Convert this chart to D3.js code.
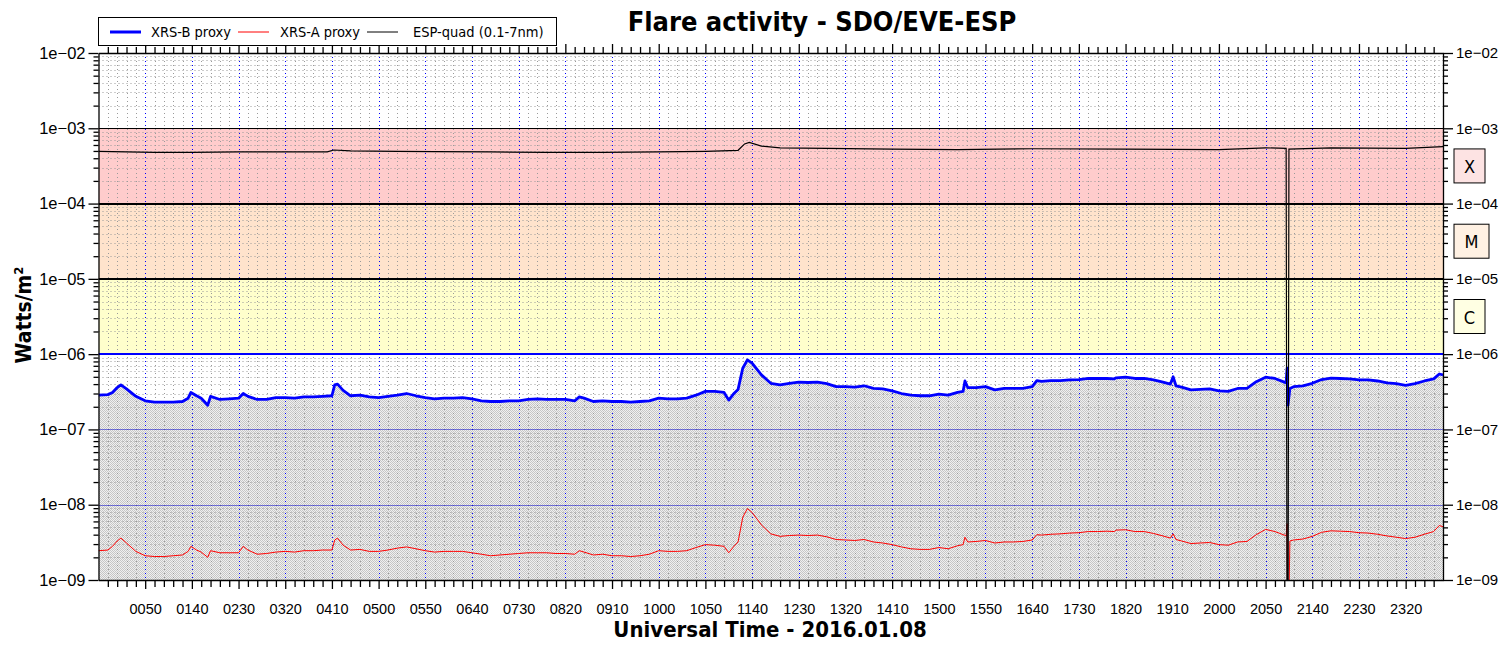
<!DOCTYPE html>
<html>
<head>
<meta charset="utf-8">
<script src="https://cdn.jsdelivr.net/npm/d3@7"></script>
<style>
  html, body { margin: 0; padding: 0; background: #fff; }
  svg { display: block; font-family: "DejaVu Sans Condensed", "DejaVu Sans", sans-serif; }
</style>
</head>
<body>
<svg id="chart" width="1511" height="663"></svg>
<script>
// minutes since 00:00 UT
const xrsTime = [0, 10, 15, 20, 24, 30, 40, 50, 60, 70, 80, 90, 96, 99, 105, 110, 117, 120, 130, 140,
  150, 155, 160, 170, 180, 190, 200, 210, 220, 230, 240, 250, 253, 256, 262, 270, 280, 290, 300, 310,
  320, 330, 340, 350, 360, 370, 380, 390, 400, 410, 420, 430, 440, 450, 460, 470, 480, 490, 500, 510,
  515, 520, 530, 540, 550, 560, 570, 580, 590, 600, 610, 620, 630, 640, 650, 660, 670, 675, 680, 685,
  690, 695, 700, 710, 720, 730, 740, 750, 760, 770, 780, 790, 800, 810, 820, 830, 840, 850, 860, 870,
  880, 890, 900, 910, 920, 926, 928, 931, 940, 950, 960, 970, 980, 990, 1000, 1005, 1010, 1020, 1030, 1040,
  1050, 1060, 1070, 1080, 1088, 1090, 1100, 1110, 1120, 1130, 1140, 1148, 1151, 1154, 1160, 1170, 1180, 1190, 1200, 1210,
  1220, 1230, 1240, 1250, 1260, 1270, 1272, 1273, 1274, 1276, 1280, 1290, 1300, 1310, 1320, 1330, 1340, 1350, 1360, 1370,
  1380, 1390, 1400, 1410, 1420, 1430, 1436, 1440];

const xrsB = [2.85e-7, 2.9e-7, 3.1e-7, 3.6e-7, 3.9e-7, 3.45e-7, 2.75e-7, 2.4e-7, 2.3e-7, 2.3e-7, 2.3e-7, 2.35e-7, 2.6e-7, 3.1e-7, 2.8e-7, 2.6e-7, 2.1e-7, 2.75e-7, 2.5e-7, 2.55e-7,
  2.6e-7, 3.0e-7, 2.75e-7, 2.5e-7, 2.5e-7, 2.65e-7, 2.65e-7, 2.6e-7, 2.7e-7, 2.7e-7, 2.75e-7, 2.8e-7, 3.9e-7, 4.0e-7, 3.3e-7, 2.8e-7, 2.85e-7, 2.7e-7, 2.65e-7, 2.75e-7,
  2.85e-7, 3.0e-7, 2.8e-7, 2.65e-7, 2.55e-7, 2.6e-7, 2.6e-7, 2.65e-7, 2.55e-7, 2.4e-7, 2.35e-7, 2.35e-7, 2.4e-7, 2.4e-7, 2.5e-7, 2.55e-7, 2.5e-7, 2.5e-7, 2.5e-7, 2.4e-7,
  2.7e-7, 2.6e-7, 2.35e-7, 2.4e-7, 2.35e-7, 2.35e-7, 2.3e-7, 2.35e-7, 2.4e-7, 2.6e-7, 2.55e-7, 2.55e-7, 2.6e-7, 2.85e-7, 3.2e-7, 3.2e-7, 3.1e-7, 2.45e-7, 2.95e-7, 3.4e-7,
  6.5e-7, 8.4e-7, 7.6e-7, 5.3e-7, 4.1e-7, 3.9e-7, 4.1e-7, 4.25e-7, 4.2e-7, 4.25e-7, 4.05e-7, 3.7e-7, 3.7e-7, 3.65e-7, 3.8e-7, 3.5e-7, 3.45e-7, 3.25e-7, 3.0e-7, 2.85e-7,
  2.8e-7, 2.8e-7, 2.95e-7, 2.85e-7, 3.1e-7, 3.2e-7, 4.4e-7, 3.6e-7, 3.6e-7, 3.7e-7, 3.35e-7, 3.5e-7, 3.5e-7, 3.5e-7, 3.7e-7, 4.45e-7, 4.35e-7, 4.45e-7, 4.45e-7, 4.55e-7,
  4.6e-7, 4.75e-7, 4.75e-7, 4.75e-7, 4.7e-7, 4.85e-7, 4.95e-7, 4.75e-7, 4.75e-7, 4.55e-7, 4.25e-7, 4.0e-7, 5.0e-7, 3.8e-7, 3.65e-7, 3.35e-7, 3.4e-7, 3.45e-7, 3.25e-7, 3.2e-7,
  3.5e-7, 3.5e-7, 4.3e-7, 4.95e-7, 4.75e-7, 4.25e-7, 4.15e-7, 6.5e-7, 2.1e-7, 3.5e-7, 3.7e-7, 3.8e-7, 4.1e-7, 4.6e-7, 4.8e-7, 4.75e-7, 4.7e-7, 4.55e-7, 4.55e-7, 4.4e-7,
  4.15e-7, 4.05e-7, 3.85e-7, 4.05e-7, 4.4e-7, 4.7e-7, 5.45e-7, 5.3e-7];

const xrsA = [2.45e-9, 2.5e-9, 2.8e-9, 3.3e-9, 3.6e-9, 3.1e-9, 2.4e-9, 2.1e-9, 2.05e-9, 2.05e-9, 2.1e-9, 2.15e-9, 2.4e-9, 2.8e-9, 2.5e-9, 2.35e-9, 2.0e-9, 2.45e-9, 2.3e-9, 2.3e-9,
  2.3e-9, 2.8e-9, 2.5e-9, 2.2e-9, 2.25e-9, 2.35e-9, 2.4e-9, 2.35e-9, 2.45e-9, 2.45e-9, 2.5e-9, 2.5e-9, 3.4e-9, 3.6e-9, 2.9e-9, 2.5e-9, 2.55e-9, 2.4e-9, 2.4e-9, 2.5e-9,
  2.65e-9, 2.75e-9, 2.6e-9, 2.45e-9, 2.35e-9, 2.4e-9, 2.4e-9, 2.4e-9, 2.3e-9, 2.2e-9, 2.1e-9, 2.15e-9, 2.2e-9, 2.25e-9, 2.3e-9, 2.3e-9, 2.3e-9, 2.25e-9, 2.25e-9, 2.2e-9,
  2.45e-9, 2.35e-9, 2.15e-9, 2.2e-9, 2.1e-9, 2.1e-9, 2.05e-9, 2.1e-9, 2.2e-9, 2.45e-9, 2.4e-9, 2.4e-9, 2.45e-9, 2.7e-9, 2.95e-9, 2.9e-9, 2.8e-9, 2.3e-9, 2.75e-9, 3.2e-9,
  6.8e-9, 8.9e-9, 7.9e-9, 5.4e-9, 4.1e-9, 3.8e-9, 3.9e-9, 3.95e-9, 3.9e-9, 3.95e-9, 3.75e-9, 3.45e-9, 3.4e-9, 3.35e-9, 3.45e-9, 3.2e-9, 3.1e-9, 2.95e-9, 2.75e-9, 2.6e-9,
  2.55e-9, 2.55e-9, 2.7e-9, 2.6e-9, 2.85e-9, 2.95e-9, 3.7e-9, 3.2e-9, 3.25e-9, 3.35e-9, 3.1e-9, 3.2e-9, 3.2e-9, 3.25e-9, 3.4e-9, 4.0e-9, 3.95e-9, 4.05e-9, 4.1e-9, 4.2e-9,
  4.25e-9, 4.4e-9, 4.4e-9, 4.45e-9, 4.4e-9, 4.6e-9, 4.65e-9, 4.4e-9, 4.4e-9, 4.15e-9, 3.85e-9, 3.6e-9, 4.1e-9, 3.45e-9, 3.3e-9, 3.05e-9, 3.1e-9, 3.15e-9, 2.95e-9, 2.9e-9,
  3.2e-9, 3.25e-9, 4.0e-9, 4.7e-9, 4.4e-9, 3.95e-9, 3.85e-9, 5.6e-9, 1e-10, 3.3e-9, 3.4e-9, 3.5e-9, 3.8e-9, 4.3e-9, 4.5e-9, 4.45e-9, 4.4e-9, 4.25e-9, 4.2e-9, 4.05e-9,
  3.85e-9, 3.7e-9, 3.55e-9, 3.7e-9, 4.05e-9, 4.4e-9, 5.3e-9, 5.1e-9];

const espTime = [0, 30, 60, 100, 150, 200, 245, 252, 270, 320, 360, 420, 480, 540, 600, 650, 685, 692, 697, 710,
  730, 780, 850, 920, 1000, 1100, 1200, 1250, 1272, 1273, 1274, 1275, 1320, 1400, 1440];
const esp = [4.95e-4, 4.85e-4, 4.8e-4, 4.8e-4, 4.85e-4, 4.85e-4, 4.85e-4, 5.15e-4, 5.0e-4, 4.95e-4, 4.9e-4, 4.85e-4, 4.8e-4, 4.8e-4, 4.85e-4, 4.95e-4, 5.1e-4, 6.2e-4, 6.5e-4, 5.8e-4,
  5.5e-4, 5.4e-4, 5.3e-4, 5.2e-4, 5.35e-4, 5.3e-4, 5.2e-4, 5.5e-4, 5.4e-4, 1e-10, 1e-10, 5.3e-4, 5.5e-4, 5.4e-4, 5.7e-4];

const flareClasses = ["X", "M", "C"];
const classLow = [1e-4, 1e-5, 1e-6];
const classColors = ["#ffcccc", "#ffe3cc", "#ffffcc"];
const classBoxColors = ["#fde3e3", "#fff1e3", "#ffffe3"];

const legendNames = ["XRS-B proxy", "XRS-A proxy", "ESP-quad (0.1-7nm)"];

const svg = d3.select("#chart");
const pL = 98.5, pR = 1443, pT = 53, pB = 580;

const x = d3.scaleLinear().domain([0, 1440]).range([pL, pR]);
const y = d3.scaleLog().domain([1e-9, 1e-2]).range([pB, pT]);

const defs = svg.append("defs");
defs.append("clipPath").attr("id", "plotClip")
  .append("rect").attr("x", pL).attr("y", pT).attr("width", pR - pL).attr("height", pB - pT);
const pat = defs.append("pattern").attr("id", "hatch").attr("patternUnits", "userSpaceOnUse")
  .attr("width", 2).attr("height", 2);
pat.append("rect").attr("width", 2).attr("height", 2).attr("fill", "#f0f0f0");
pat.append("rect").attr("width", 1).attr("height", 1).attr("fill", "#c6c6c6");
pat.append("rect").attr("x", 1).attr("y", 1).attr("width", 1).attr("height", 1).attr("fill", "#c6c6c6");

const plot = svg.append("g").attr("clip-path", "url(#plotClip)");

// flare class bands
plot.selectAll("rect.band").data(flareClasses).join("rect")
  .attr("class", "band")
  .attr("x", pL).attr("width", pR - pL)
  .attr("y", (d, i) => y(classLow[i] * 10))
  .attr("height", (d, i) => y(classLow[i]) - y(classLow[i] * 10))
  .attr("fill", (d, i) => classColors[i]);

// shaded area under XRS-B
const bData = xrsTime.map((t, i) => ({ t: t, v: xrsB[i] }));
const aData = xrsTime.map((t, i) => ({ t: t, v: xrsA[i] }));
const eData = espTime.map((t, i) => ({ t: t, v: esp[i] }));

plot.append("path").datum(bData)
  .attr("fill", "url(#hatch)")
  .attr("d", d3.area().x(d => x(d.t)).y0(pB).y1(d => y(d.v)));

// minor grid
const decades = d3.range(-9, -2).map(e => Math.pow(10, e));
const minorY = [];
decades.forEach(dv => { for (let k = 2; k <= 9; k++) minorY.push(dv * k); });
const minorX = d3.range(10, 1440, 10).filter(m => m % 50 !== 0);
const majorX = d3.range(50, 1440, 50);

plot.selectAll("line.gy").data(minorY).join("line")
  .attr("x1", pL).attr("x2", pR)
  .attr("y1", d => Math.round(y(d)) + 0.5).attr("y2", d => Math.round(y(d)) + 0.5)
  .attr("stroke", "#9a9a9a").attr("stroke-width", 1).attr("stroke-dasharray", "1,3");
plot.selectAll("line.gx").data(minorX).join("line")
  .attr("y1", pT).attr("y2", pB)
  .attr("x1", d => Math.round(x(d)) + 0.5).attr("x2", d => Math.round(x(d)) + 0.5)
  .attr("stroke", "#9a9a9a").attr("stroke-width", 1).attr("stroke-dasharray", "1,3");
plot.selectAll("line.mx").data(majorX).join("line")
  .attr("y1", pT).attr("y2", pB)
  .attr("x1", d => Math.round(x(d)) + 0.5).attr("x2", d => Math.round(x(d)) + 0.5)
  .attr("stroke", "#0000ff").attr("stroke-width", 1).attr("stroke-dasharray", "1,3");

// decade lines
const decadeStyle = [
  { v: 1e-8, c: "#0000cc", w: 1, dash: "1,1" },
  { v: 1e-7, c: "#0000cc", w: 1, dash: "1,1" },
  { v: 1e-6, c: "#0000ff", w: 2, dash: null },
  { v: 1e-5, c: "#000000", w: 2, dash: null },
  { v: 1e-4, c: "#000000", w: 2, dash: null },
  { v: 1e-3, c: "#000000", w: 1, dash: null }
];
plot.selectAll("line.dec").data(decadeStyle).join("line")
  .attr("x1", pL).attr("x2", pR)
  .attr("y1", d => Math.round(y(d.v)) + (d.w === 1 ? 0.5 : 0))
  .attr("y2", d => Math.round(y(d.v)) + (d.w === 1 ? 0.5 : 0))
  .attr("stroke", d => d.c).attr("stroke-width", d => d.w)
  .attr("stroke-dasharray", d => d.dash);

// data lines
const line = d3.line().x(d => x(d.t)).y(d => y(d.v));
plot.append("path").datum(bData).attr("fill", "none").attr("stroke", "#0000ff")
  .attr("stroke-width", 2.8).attr("stroke-linejoin", "round").attr("d", line);
plot.append("path").datum(aData).attr("fill", "none").attr("stroke", "#ff0000")
  .attr("stroke-width", 1).attr("d", line);
plot.append("path").datum(eData).attr("fill", "none").attr("stroke", "#000000")
  .attr("stroke-width", 1.2).attr("d", line);

// axes
const hhmm = m => String(Math.floor(m / 60)).padStart(2, "0") + String(m % 60).padStart(2, "0");
const sci = d => "1e\u2212" + String(Math.round(-Math.log10(d))).padStart(2, "0");

svg.append("g").attr("transform", `translate(0,${pB})`)
  .call(d3.axisBottom(x).tickValues(majorX).tickFormat(hhmm).tickSize(9).tickSizeOuter(0))
  .call(g => g.selectAll("text").attr("font-size", 14.5).attr("dy", "1.55em").attr("font-family", null));
svg.append("g").attr("transform", `translate(0,${pB})`)
  .call(d3.axisBottom(x).tickValues(minorX).tickFormat("").tickSize(7).tickSizeOuter(0))
  .call(g => g.select(".domain").remove());
svg.append("g").attr("transform", `translate(0,${pT})`)
  .call(d3.axisTop(x).tickValues(majorX).tickFormat("").tickSize(9).tickSizeOuter(0));
svg.append("g").attr("transform", `translate(0,${pT})`)
  .call(d3.axisTop(x).tickValues(minorX).tickFormat("").tickSize(6).tickSizeOuter(0))
  .call(g => g.select(".domain").remove());

[[d3.axisLeft, pL, 16.5], [d3.axisRight, pR, 15]].forEach(([ax, pos, fs]) => {
  svg.append("g").attr("transform", `translate(${pos},0)`)
    .call(ax(y).tickValues(decades.concat([1e-2])).tickFormat(sci).tickSize(10).tickSizeOuter(0))
    .call(g => g.selectAll("text").attr("font-size", fs).attr("font-family", null));
  svg.append("g").attr("transform", `translate(${pos},0)`)
    .call(ax(y).tickValues(minorY).tickFormat("").tickSize(5).tickSizeOuter(0))
    .call(g => g.select(".domain").remove());
});
svg.selectAll(".domain, .tick line").attr("stroke", "#000").attr("stroke-width", 1.3);

// flare class boxes
const boxes = svg.selectAll("g.cls").data(flareClasses).join("g")
  .attr("class", "cls")
  .attr("transform", (d, i) => `translate(1454,${(y(classLow[i]) + y(classLow[i] * 10)) / 2 - 17})`);
boxes.append("rect").attr("width", (d) => d === "M" ? 35 : 31).attr("height", 34)
  .attr("fill", (d, i) => classBoxColors[i]).attr("stroke", "#000").attr("stroke-width", 1);
boxes.append("text").attr("x", d => d === "M" ? 17.5 : 15.5).attr("y", 24)
  .attr("text-anchor", "middle").attr("font-size", 18).text(d => d);

// titles
svg.append("text").attr("x", 822).attr("y", 31).attr("text-anchor", "middle")
  .attr("font-size", 27).attr("font-weight", "bold").text("Flare activity - SDO/EVE-ESP");
svg.append("text").attr("x", 770).attr("y", 637).attr("text-anchor", "middle")
  .attr("font-size", 22).attr("font-weight", "bold").text("Universal Time - 2016.01.08");
svg.append("text").attr("transform", "translate(31,315) rotate(-90)").attr("text-anchor", "middle")
  .attr("font-size", 21).attr("font-weight", "bold")
  .html("Watts/m<tspan dy='-8' font-size='13'>2</tspan>");

// legend
const lg = svg.append("g");
lg.append("rect").attr("x", 98.5).attr("y", 17.5).attr("width", 458).attr("height", 28)
  .attr("fill", "#fff").attr("stroke", "#000").attr("stroke-width", 1);
const legendStyles = [
  { c: "#0000ff", w: 3, x0: 110, tx: 151 },
  { c: "#ff0000", w: 1, x0: 238, tx: 280 },
  { c: "#000000", w: 1, x0: 367, tx: 413 }
];
legendNames.forEach((name, i) => {
  const s = legendStyles[i];
  lg.append("line").attr("x1", s.x0).attr("x2", s.x0 + 31).attr("y1", 32).attr("y2", 32)
    .attr("stroke", s.c).attr("stroke-width", s.w);
  lg.append("text").attr("x", s.tx).attr("y", 37).attr("font-size", 14.5).text(name);
});
</script>
</body>
</html>
